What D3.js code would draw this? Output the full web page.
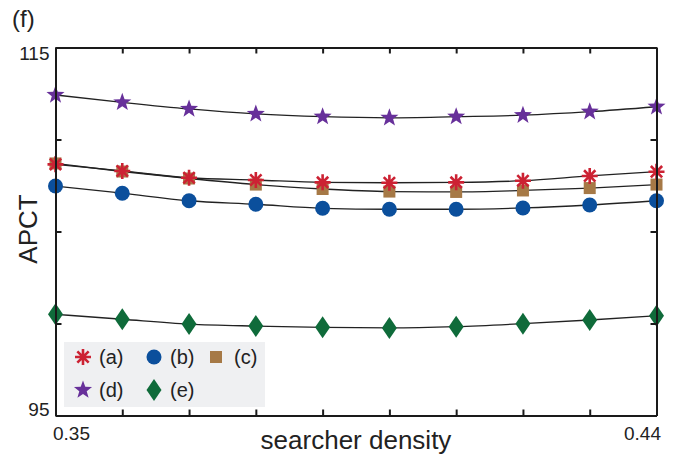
<!DOCTYPE html>
<html>
<head>
<meta charset="utf-8">
<script src="https://cdn.jsdelivr.net/npm/d3@7"></script>
<style>
  body { margin: 0; background: #fff; }
  text { font-family: "Liberation Sans", Arial, sans-serif; fill: #222; }
</style>
</head>
<body>
<div id="chart"></div>
<script>
// searcher density values
const density = [0.35, 0.36, 0.37, 0.38, 0.39, 0.40, 0.41, 0.42, 0.43, 0.44];
// APCT per series
const seriesA = [108.65, 108.29, 107.92, 107.80, 107.67, 107.65, 107.67, 107.76, 108.02, 108.25];
const seriesB = [107.47, 107.08, 106.67, 106.48, 106.26, 106.21, 106.21, 106.28, 106.44, 106.67];
const seriesC = [108.70, 108.26, 107.88, 107.55, 107.31, 107.17, 107.15, 107.23, 107.36, 107.55];
const seriesD = [112.42, 112.02, 111.66, 111.39, 111.24, 111.18, 111.24, 111.32, 111.51, 111.78];
const seriesE = [100.50, 100.23, 99.97, 99.86, 99.79, 99.76, 99.83, 99.99, 100.19, 100.42];
const legendLabels = ["(a)", "(b)", "(c)", "(d)", "(e)"];
const yTicks = [95, 100, 105, 110, 115];
const yTickLabels = ["95", "", "", "", "115"];
const xTickLabels = ["0.35", "", "", "", "", "", "", "", "", "0.44"];

const width = 674, height = 455;
const svg = d3.select("#chart").append("svg")
    .attr("width", width)
    .attr("height", height);

const x = d3.scaleLinear().domain([0.35, 0.44]).range([55.5, 656.5]);
const y = d3.scaleLinear().domain([95, 115]).range([415.5, 47.5]);

// marker shapes
const starPath = (() => {
    let p = [];
    for (let i = 0; i < 10; i++) {
        const r = i % 2 === 0 ? 9.5 : 3.9;
        const a = -Math.PI / 2 + i * Math.PI / 5;
        p.push([r * Math.cos(a), r * Math.sin(a)]);
    }
    return "M" + p.map(d => d.join(",")).join("L") + "Z";
})();
const diamondPath = "M0,-11L7.5,0L0,11L-7.5,0Z";
const asteriskPath = (() => {
    let s = "";
    for (let i = 0; i < 4; i++) {
        const a = i * Math.PI / 4;
        const dx = 8 * Math.cos(a), dy = 8 * Math.sin(a);
        s += `M${-dx},${-dy}L${dx},${dy}`;
    }
    return s;
})();

const series = [
    { key: "c", values: seriesC, draw: g => g.append("rect").attr("x", -6).attr("y", -6).attr("width", 12).attr("height", 12).attr("fill", "#a67946") },
    { key: "a", values: seriesA, draw: g => g.append("path").attr("d", asteriskPath).attr("stroke", "#cc2233").attr("stroke-width", 2.6).attr("fill", "none") },
    { key: "b", values: seriesB, draw: g => g.append("circle").attr("r", 7.5).attr("fill", "#0b4f9c") },
    { key: "d", values: seriesD, draw: g => g.append("path").attr("d", starPath).attr("fill", "#67309a") },
    { key: "e", values: seriesE, draw: g => g.append("path").attr("d", diamondPath).attr("fill", "#0f6b3a") }
];

const line = d3.line()
    .x((d, i) => x(density[i]))
    .y(d => y(d))
    .curve(d3.curveMonotoneX);

// lines first
series.forEach(s => {
    svg.append("path")
        .datum(s.values)
        .attr("fill", "none")
        .attr("stroke", "#222")
        .attr("stroke-width", 1.3)
        .attr("d", line);
});

// markers
series.forEach(s => {
    s.values.forEach((v, i) => {
        const g = svg.append("g").attr("transform", `translate(${x(density[i])},${y(v)})`);
        s.draw(g);
    });
});

// legend
const legend = svg.append("g");
legend.append("rect")
    .attr("x", 64).attr("y", 342)
    .attr("width", 201).attr("height", 65)
    .attr("fill", "#eff0f2");
const legendPos = [[83, 357], [154, 357], [216, 357], [83, 390], [154, 390]];
const legendDraw = [series[1].draw, series[2].draw, series[0].draw, series[3].draw, series[4].draw];
legendLabels.forEach((lab, i) => {
    const [lx, ly] = legendPos[i];
    const g = legend.append("g").attr("transform", `translate(${lx},${ly})`);
    legendDraw[i](g);
    legend.append("text")
        .attr("x", i === 2 ? 234 : lx + 16)
        .attr("y", ly + 7)
        .attr("font-size", 20)
        .text(lab);
});

// axes box
const axisStroke = g => {
    g.select(".domain").attr("stroke", "#1a1a1a").attr("stroke-width", 2);
    g.selectAll(".tick line").attr("stroke", "#1a1a1a").attr("stroke-width", 2);
};

svg.append("g")
    .attr("transform", `translate(0,${y(95)})`)
    .call(d3.axisBottom(x).tickValues(density).tickSize(-6).tickSizeOuter(0)
        .tickFormat((d, i) => xTickLabels[i]))
    .call(axisStroke)
    .call(g => g.selectAll("text")
        .attr("font-size", 19)
        .attr("fill", "#222")
        .attr("y", 11)
        .attr("text-anchor", (d, i) => i === 0 ? "start" : "end")
        .attr("dx", (d, i) => i === 0 ? -3 : 4));

svg.append("g")
    .attr("transform", `translate(0,${y(115)})`)
    .call(d3.axisTop(x).tickValues(density).tickSize(-6).tickSizeOuter(0).tickFormat(""))
    .call(axisStroke);

svg.append("g")
    .attr("transform", `translate(${x(0.35)},0)`)
    .call(d3.axisLeft(y).tickValues(yTicks).tickSize(-6).tickSizeOuter(0)
        .tickFormat((d, i) => yTickLabels[i]))
    .call(axisStroke)
    .call(g => g.selectAll("text")
        .attr("font-size", 19)
        .attr("fill", "#222")
        .attr("x", -6)
        .attr("dy", (d, i) => i === 0 ? "-0.0em" : "0.65em"));

svg.append("g")
    .attr("transform", `translate(${x(0.44)},0)`)
    .call(d3.axisRight(y).tickValues(yTicks).tickSize(-6).tickSizeOuter(0).tickFormat(""))
    .call(axisStroke);

// axis titles
svg.append("text")
    .attr("transform", `translate(37,229) rotate(-90)`)
    .attr("text-anchor", "middle")
    .attr("font-size", 26)
    .text("APCT");

svg.append("text")
    .attr("x", 356).attr("y", 449)
    .attr("text-anchor", "middle")
    .attr("font-size", 26)
    .text("searcher density");

svg.append("text")
    .attr("x", 12).attr("y", 27)
    .attr("font-size", 24)
    .text("(f)");
</script>
</body>
</html>
